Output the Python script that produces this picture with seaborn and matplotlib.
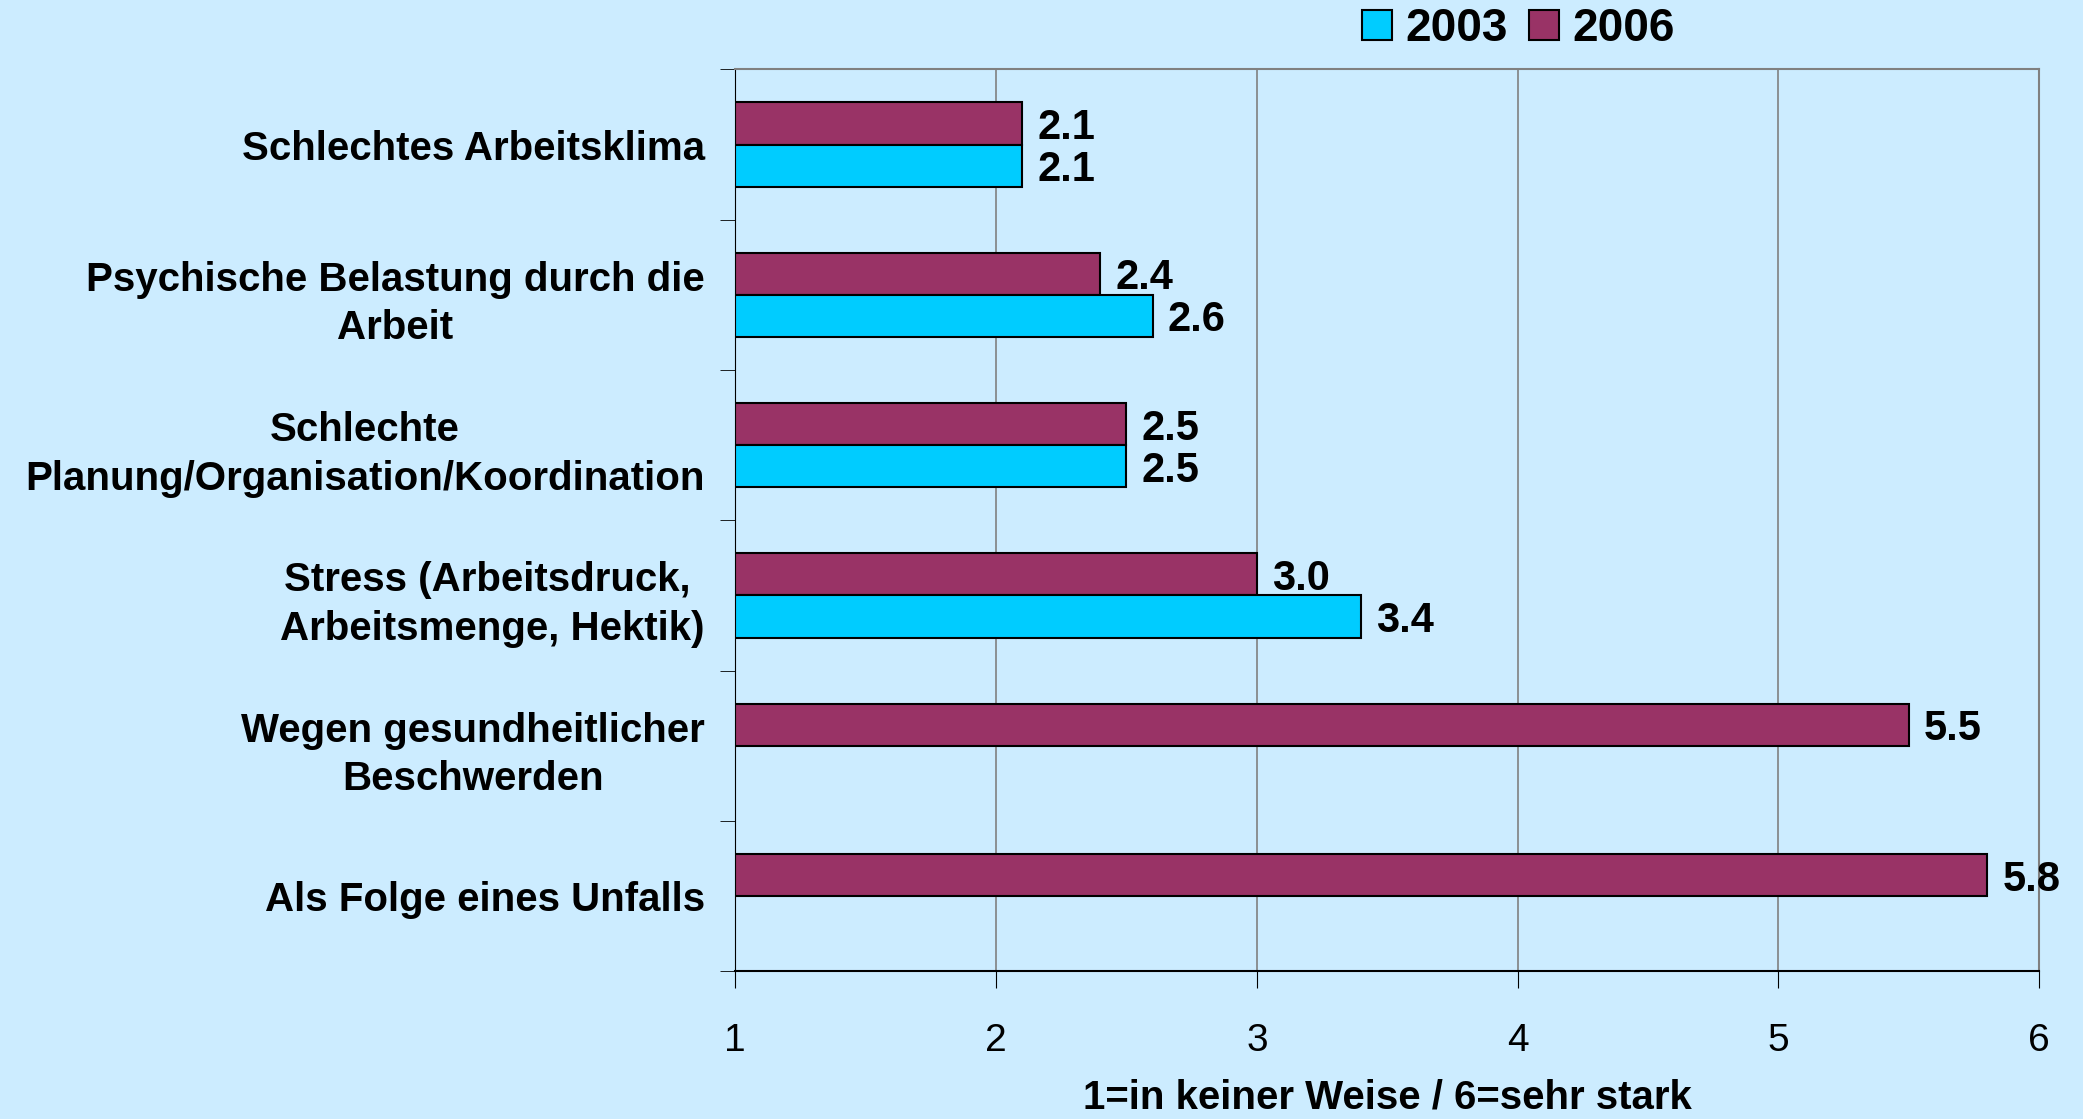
import numpy as np
import pandas as pd
import matplotlib.pyplot as plt
import seaborn as sns

# Data
categories = [
    "Schlechtes Arbeitsklima",
    "Psychische Belastung durch die\nArbeit",
    "Schlechte\nPlanung/Organisation/Koordination",
    "Stress (Arbeitsdruck, \nArbeitsmenge, Hektik)",
    "Wegen gesundheitlicher\nBeschwerden",
    "Als Folge eines Unfalls",
]
values_2006 = [2.1, 2.4, 2.5, 3.0, 5.5, 5.8]
values_2003 = [2.1, 2.6, 2.5, 3.4, np.nan, np.nan]
x_ticks = [1, 2, 3, 4, 5, 6]

bg = "#CCECFF"
colors = {"2006": "#993366", "2003": "#00CCFF"}

df = pd.DataFrame({
    "category": categories * 2,
    "value": values_2006 + values_2003,
    "year": ["2006"] * 6 + ["2003"] * 6,
}).dropna()

plt.rcParams["font.family"] = ["Liberation Sans", "DejaVu Sans"]

fig = plt.figure(figsize=(20.83, 11.19), dpi=100, facecolor=bg)
ax = fig.add_axes([0.353, 0.132, 0.626, 0.806], facecolor=bg)

sns.barplot(data=df, y="category", x="value", hue="year", order=categories,
            hue_order=["2006", "2003"], palette=colors, saturation=1, orient="h",
            width=0.56, edgecolor="black", linewidth=1.5, errorbar=None, ax=ax)

# value labels next to bars
for cont in ax.containers:
    texts = ax.bar_label(cont, fmt="%.1f", padding=11, fontsize=30, fontweight="bold")
    for t in texts:
        t.set_va("center_baseline")

ax.set_xlim(1, 6)
ax.set_xticks(x_ticks)
ax.set_ylim(5.5, -0.5)
ax.set_axisbelow(True)
ax.xaxis.grid(True, color="#808080", linewidth=1.2)
ax.yaxis.grid(False)

for s in ["top", "right"]:
    ax.spines[s].set_color("#808080")
    ax.spines[s].set_linewidth(1.5)
ax.spines["left"].set_color("black")
ax.spines["bottom"].set_color("black")
ax.spines["bottom"].set_linewidth(1.5)

ax.set_yticks(np.arange(-0.5, 6, 1), minor=True)
ax.tick_params(axis="y", which="major", length=0, pad=22)
ax.tick_params(axis="y", which="minor", length=11, color="black")
ax.tick_params(axis="x", length=12, color="black", pad=25, labelsize=28)
for lab in ax.get_yticklabels():
    lab.set_fontsize(29)
    lab.set_fontweight("bold")
    lab.set_multialignment("center")
    lab.set_linespacing(1.35)

ax.set_ylabel("")
ax.set_xlabel("1=in keiner Weise / 6=sehr stark", fontsize=29,
              fontweight="bold", labelpad=14)

# legend: 2003 first, 2006 second
handles, labels = ax.get_legend_handles_labels()
ax.legend_.remove()
fig.legend(handles[::-1], labels[::-1], loc="center", bbox_to_anchor=(0.729, 0.974),
           ncol=2, frameon=False, handlelength=0.65, handleheight=0.65,
           handletextpad=0.3, columnspacing=0.45,
           prop={"size": 33, "weight": "bold"})

fig.savefig("out.png", dpi=100, facecolor=bg)
